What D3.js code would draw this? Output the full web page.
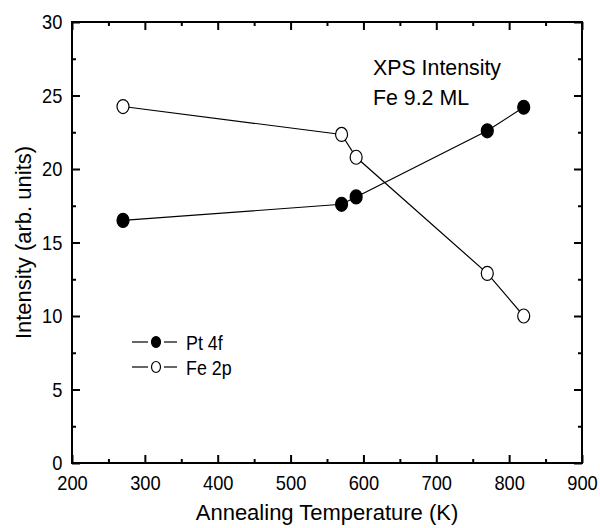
<!DOCTYPE html>
<html>
<head>
<meta charset="utf-8">
<script src="https://cdn.jsdelivr.net/npm/d3@7"></script>
<style>
  body { margin: 0; background: #fff; }
  svg text { font-family: "Liberation Sans", Arial, Helvetica, sans-serif; fill: #000; }
</style>
</head>
<body>
<div id="chart"></div>
<script>
// annealing temperatures (K) and XPS intensities (arb. units)
var temps = [270, 570, 590, 770, 820];
var pt4f  = [16.5, 17.6, 18.1, 22.6, 24.2];
var fe2p  = [24.25, 22.35, 20.8, 12.9, 10.0];

var x_ticks = [200, 300, 400, 500, 600, 700, 800, 900];
var x_minor = [250, 350, 450, 550, 650, 750, 850];
var y_ticks = [0, 5, 10, 15, 20, 25, 30];
var y_minor = [2.5, 7.5, 12.5, 17.5, 22.5, 27.5];

var series_names = ["Pt 4f", "Fe 2p"];
var note_lines = ["XPS Intensity", "Fe 9.2 ML"];

var svg = d3.select("#chart")
            .append("svg")
            .attr("width", 600)
            .attr("height", 528);

var margin = {top: 22, right: 18, bottom: 65, left: 72};
var width  = 600 - margin.left - margin.right;
var height = 528 - margin.top - margin.bottom;

var plot = svg.append("g")
              .attr("transform", "translate(" + margin.left + "," + margin.top + ")");

var x = d3.scaleLinear().domain([200, 900]).range([0, width]);
var y = d3.scaleLinear().domain([0, 30]).range([height, 0]);

function styleAxis(g) {
    g.select(".domain").remove();
    g.selectAll(".tick line").attr("stroke", "#000").attr("stroke-width", 2);
}

// major ticks, all four sides, pointing inward
plot.append("g")
    .attr("class", "x-axis")
    .attr("transform", "translate(0," + height + ")")
    .call(d3.axisBottom(x).tickValues(x_ticks).tickSizeInner(-8).tickSizeOuter(0).tickPadding(12))
    .call(styleAxis)
    .selectAll("text")
    .attr("font-size", 21)
    .attr("transform", "scale(0.87,1)");

plot.append("g")
    .attr("class", "x-axis-top")
    .call(d3.axisTop(x).tickValues(x_ticks).tickSizeInner(-8).tickSizeOuter(0).tickFormat(""))
    .call(styleAxis);

plot.append("g")
    .attr("class", "y-axis")
    .call(d3.axisLeft(y).tickValues(y_ticks).tickSizeInner(-8).tickSizeOuter(0).tickPadding(11))
    .call(styleAxis)
    .selectAll("text")
    .attr("font-size", 21)
    .attr("transform", "scale(0.87,1)");

plot.append("g")
    .attr("class", "y-axis-right")
    .attr("transform", "translate(" + width + ",0)")
    .call(d3.axisRight(y).tickValues(y_ticks).tickSizeInner(-8).tickSizeOuter(0).tickFormat(""))
    .call(styleAxis);

// minor ticks
plot.append("g")
    .attr("transform", "translate(0," + height + ")")
    .call(d3.axisBottom(x).tickValues(x_minor).tickSizeInner(-4).tickSizeOuter(0).tickFormat(""))
    .call(styleAxis);
plot.append("g")
    .call(d3.axisTop(x).tickValues(x_minor).tickSizeInner(-4).tickSizeOuter(0).tickFormat(""))
    .call(styleAxis);
plot.append("g")
    .call(d3.axisLeft(y).tickValues(y_minor).tickSizeInner(-4).tickSizeOuter(0).tickFormat(""))
    .call(styleAxis);
plot.append("g")
    .attr("transform", "translate(" + width + ",0)")
    .call(d3.axisRight(y).tickValues(y_minor).tickSizeInner(-4).tickSizeOuter(0).tickFormat(""))
    .call(styleAxis);

// frame
plot.append("rect")
    .attr("x", 0).attr("y", 0)
    .attr("width", width).attr("height", height)
    .attr("fill", "none")
    .attr("stroke", "#000")
    .attr("stroke-width", 2);

// series
var line = d3.line()
             .x(function(d) { return x(d[0]); })
             .y(function(d) { return y(d[1]); });

var series = [
    {name: series_names[0], values: temps.map(function(t, i) { return [t, pt4f[i]]; }), fill: "#000"},
    {name: series_names[1], values: temps.map(function(t, i) { return [t, fe2p[i]]; }), fill: "#fff"}
];

series.forEach(function(s) {
    plot.append("path")
        .datum(s.values)
        .attr("d", line)
        .attr("fill", "none")
        .attr("stroke", "#000")
        .attr("stroke-width", 1.2);
    plot.append("g")
        .selectAll("ellipse")
        .data(s.values)
        .enter()
        .append("ellipse")
        .attr("cx", function(d) { return x(d[0]); })
        .attr("cy", function(d) { return y(d[1]); })
        .attr("rx", 6)
        .attr("ry", 7)
        .attr("fill", s.fill)
        .attr("stroke", "#000")
        .attr("stroke-width", 1.2);
});

// legend: line broken around the symbol
var legend = svg.append("g").attr("class", "legend");
series.forEach(function(s, i) {
    var ly = 342 + i * 25;
    [[132, 148], [164, 177]].forEach(function(seg) {
        legend.append("line")
              .attr("x1", seg[0]).attr("x2", seg[1])
              .attr("y1", ly).attr("y2", ly)
              .attr("stroke", "#000")
              .attr("stroke-width", 1.2);
    });
    legend.append("ellipse")
          .attr("cx", 156).attr("cy", ly)
          .attr("rx", 4.5).attr("ry", 5.5)
          .attr("fill", s.fill)
          .attr("stroke", "#000")
          .attr("stroke-width", 1.2);
    legend.append("text")
          .attr("transform", "translate(186," + (ly + 7.5) + ") scale(0.85,1)")
          .attr("font-size", 21)
          .text(s.name);
});

// annotation
note_lines.forEach(function(t, i) {
    svg.append("text")
       .attr("transform", "translate(373," + (75 + i * 30) + ") scale(0.97,1)")
       .attr("font-size", 22)
       .text(t);
});

// axis titles
svg.append("text")
   .attr("x", margin.left + width / 2)
   .attr("y", 520)
   .attr("text-anchor", "middle")
   .attr("font-size", 22)
   .text("Annealing Temperature (K)");

svg.append("text")
   .attr("transform", "translate(31," + (margin.top + height / 2) + ") rotate(-90)")
   .attr("text-anchor", "middle")
   .attr("font-size", 22)
   .text("Intensity (arb. units)");
</script>
</body>
</html>
